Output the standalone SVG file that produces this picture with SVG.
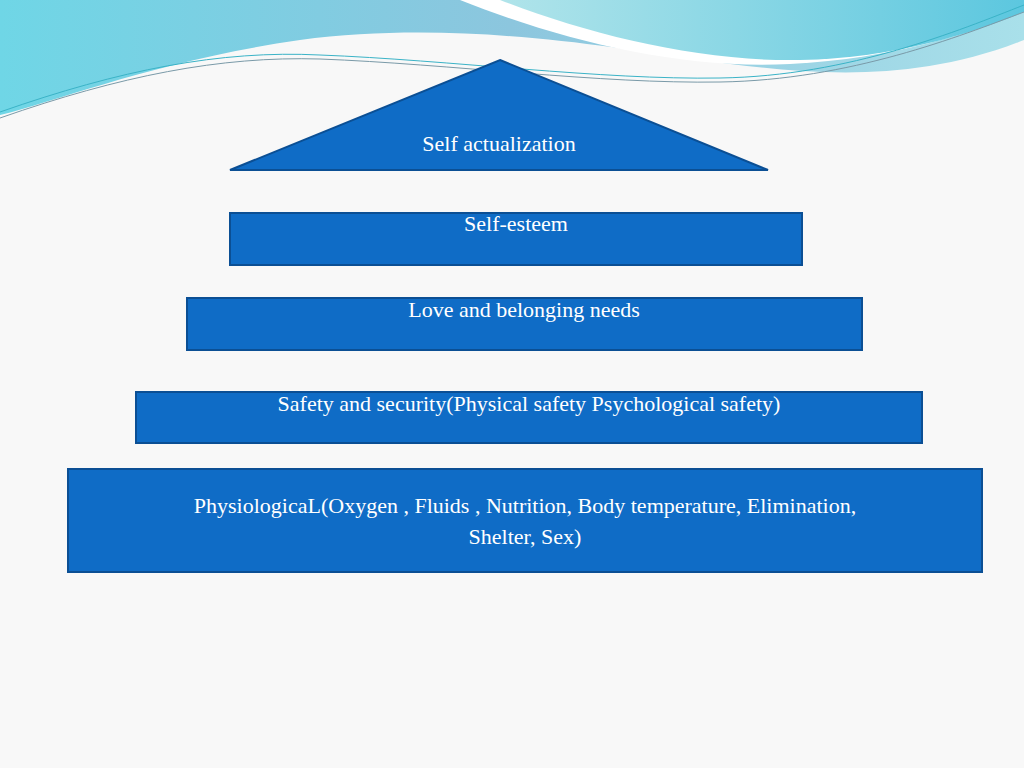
<svg xmlns="http://www.w3.org/2000/svg" width="1024" height="768" viewBox="0 0 1024 768">
<defs>
<linearGradient id="g1" x1="0" y1="0" x2="1" y2="0"><stop offset="0" stop-color="#6fd6e6"/><stop offset="0.5" stop-color="#8cc6de"/><stop offset="1" stop-color="#a9e0ea"/></linearGradient>
<linearGradient id="g2" x1="0" y1="0" x2="1" y2="0"><stop offset="0" stop-color="#b0e4ea"/><stop offset="1" stop-color="#5cc7df"/></linearGradient>
<style>
.n{fill:#0f6cc6;stroke:#0b4f94;stroke-width:2}
.t{font-family:"Liberation Serif",serif;font-size:22px;fill:#fff;text-anchor:middle}
</style>
</defs>
<rect width="1024" height="768" fill="#f8f8f8"/>
<g id="bg">
<path d="M0 0 H1024 V40 C900 90 780 70 700 60 C600 45 450 20 300 40 C160 60 60 100 0 115 Z" fill="url(#g1)"/>
<path d="M460 0 C560 40 680 70 790 64 C900 58 980 30 1024 10 V0 Z" fill="#fff"/>
<path d="M500 0 C590 35 700 62 800 60 C900 58 980 30 1024 12 V0 Z" fill="url(#g2)"/>
<path d="M0 112 C120 70 220 50 320 55 C450 60 600 80 720 78 C850 76 960 30 1024 5" fill="none" stroke="#3ab3c7" stroke-width="1"/>
<path d="M0 118 C120 76 220 56 320 59 C450 64 600 84 720 82 C850 80 960 36 1024 12" fill="none" stroke="#7a9aa8" stroke-width="1"/>
</g>
<g id="n1"><polygon class="n" points="500,60 768,170 230,170"/><text class="t" x="499" y="151">Self actualization</text></g>
<g id="n2"><rect class="n" x="230" y="213" width="572" height="52"/><text class="t" x="516" y="231">Self-esteem</text></g>
<g id="n3"><rect class="n" x="187" y="298" width="675" height="52"/><text class="t" x="524" y="317">Love and belonging needs</text></g>
<g id="n4"><rect class="n" x="136" y="392" width="786" height="51"/><text class="t" x="529" y="411">Safety and security(Physical safety Psychological safety)</text></g>
<g id="n5"><rect class="n" x="68" y="469" width="914" height="103"/><text class="t" x="525" y="513">PhysiologicaL(Oxygen , Fluids , Nutrition, Body temperature, Elimination,</text><text class="t" x="525" y="544">Shelter, Sex)</text></g>
<g id="connectors"/>
</svg>
